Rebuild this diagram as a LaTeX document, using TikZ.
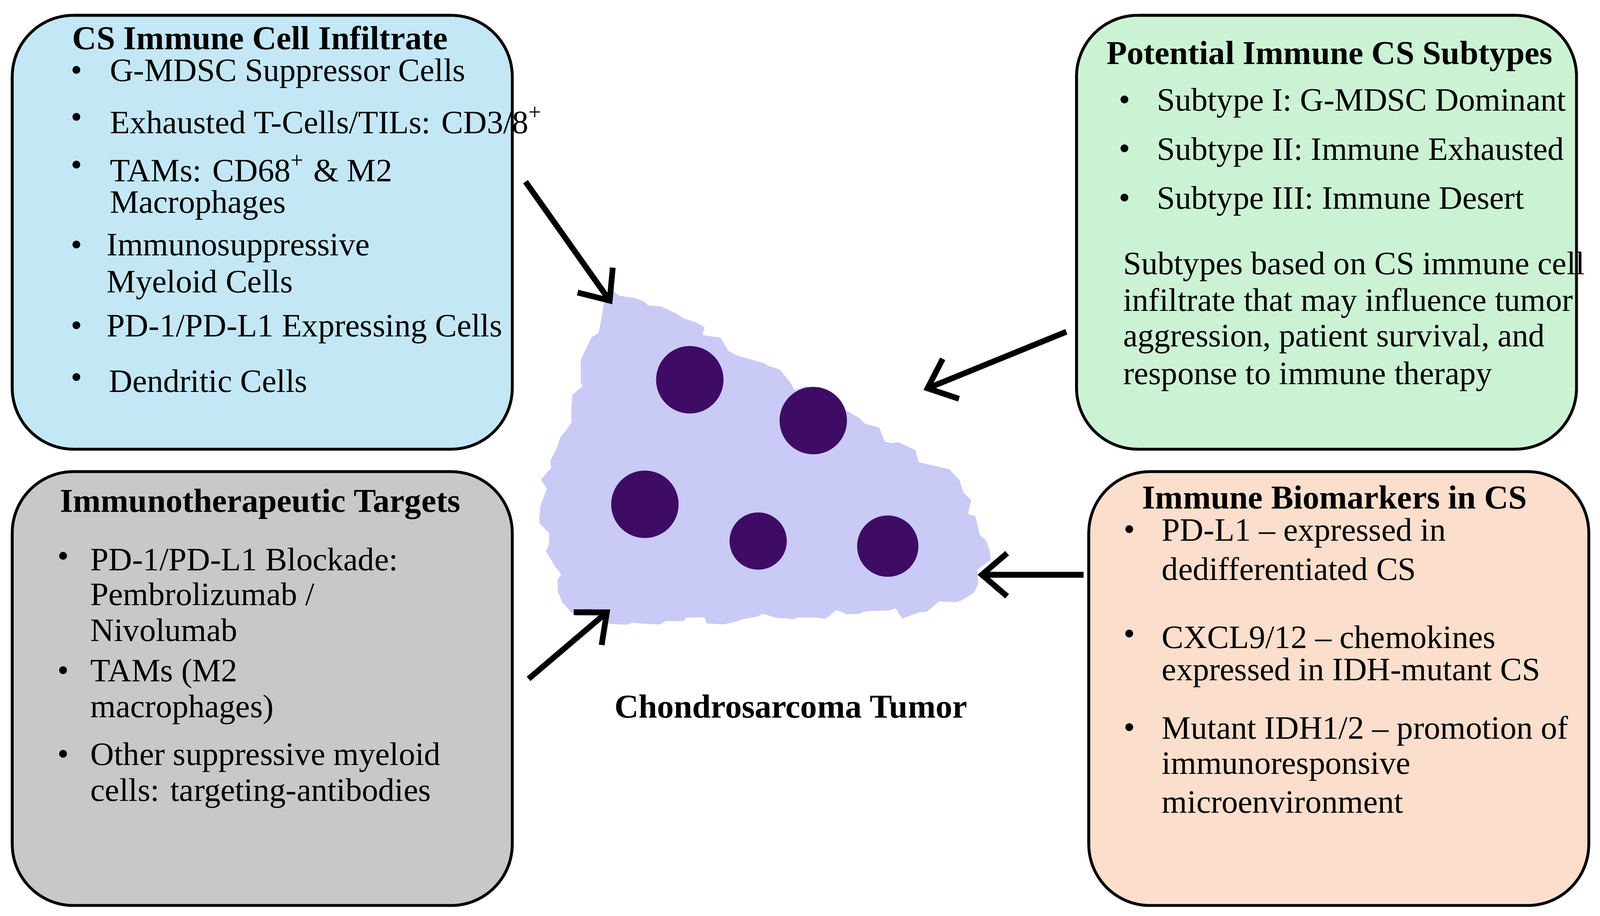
\documentclass[tikz,border=0pt]{standalone}
\usepackage{fontspec}
\setmainfont{Liberation Serif}
\usetikzlibrary{decorations.pathmorphing,arrows.meta}
\definecolor{cblue}{RGB}{196,231,246}
\definecolor{cgray}{RGB}{200,200,200}
\definecolor{cgreen}{RGB}{204,242,212}
\definecolor{cpeach}{RGB}{251,222,204}
\definecolor{ctumor}{RGB}{202,202,246}
\definecolor{cnuc}{RGB}{62,12,100}
\begin{document}
\begin{tikzpicture}[x=0.01cm,y=-0.01cm,
  box/.style={draw=black,line width=0.8pt,rounded corners=0.6cm},
  ttl/.style={font=\fontsize{9.3}{11}\selectfont\bfseries,anchor=center,inner sep=0},
  txt/.style={font=\fontsize{9.1}{11}\selectfont,anchor=west,inner sep=0},
  bul/.style={font=\fontsize{9.1}{11}\selectfont,anchor=center,inner sep=0},
  arr/.style={line width=1.6pt,-{Straight Barb[length=7pt,width=12pt]}},
  nuc/.style={fill=cnuc,draw=none}]
\useasboundingbox (0,0) rectangle (1568,897);
% boxes
\draw[box,fill=cblue] (12,15) rectangle (502,440);
\draw[box,fill=cgray] (12,462) rectangle (502,887);
\draw[box,fill=cgreen] (1055,15) rectangle (1545,440);
\draw[box,fill=cpeach] (1067,462) rectangle (1557,887);
% tumor
\fill[ctumor,decorate,decoration={random steps,segment length=3pt,amplitude=1.6pt}]
 (598,283) -- (700,330) -- (820,400) -- (940,470) -- (970,540) -- (955,580) -- (900,600) -- (760,605) -- (620,610) -- (560,600) -- (535,540) -- (530,470) -- (560,400) -- (580,330) -- cycle;
\fill[nuc] (676,372) circle (33);
\fill[nuc] (797,412) circle (33);
\fill[nuc] (632,494) circle (33);
\fill[nuc] (743,530) circle (28);
\fill[nuc] (870,535) circle (30);
\node[ttl] (tum) at (775,692) {Chondrosarcoma Tumor};
% arrows
\coordinate (a1s) at (515,178); \coordinate (a1e) at (600,298);
\coordinate (a2s) at (1045,325); \coordinate (a2e) at (905,382);
\coordinate (a3s) at (518,665); \coordinate (a3e) at (598,597);
\coordinate (a4s) at (1062,563); \coordinate (a4e) at (958,563);
\draw[arr] (a1s) -- (a1e);
\draw[arr] (a2s) -- (a2e);
\draw[arr] (a3s) -- (a3e);
\draw[arr] (a4s) -- (a4e);
% blue
\node[ttl] (bt) at (255,37) {CS Immune Cell Infiltrate};
\foreach \y [count=\i] in {72,118,165,243,322,373} {\node[bul] (bb\i) at (75,\y) {•};}
\node[txt] (b1) at (107,72) {G-MDSC Suppressor Cells};
\node[txt] (b2) at (107,118) {Exhausted T-Cells/TILs: CD3/8\textsuperscript{+}};
\node[txt] (b3) at (107,165) {TAMs: CD68\textsuperscript{+} \& M2};
\node[txt] (b3b) at (107,201) {Macrophages};
\node[txt] (b4) at (104,243) {Immunosuppressive};
\node[txt] (b4b) at (104,279) {Myeloid Cells};
\node[txt] (b5) at (104,322) {PD-1/PD-L1 Expressing Cells};
\node[txt] (b6) at (106,373) {Dendritic Cells};
% green
\node[ttl] (gt) at (1303,55) {Potential Immune CS Subtypes};
\foreach \y [count=\i] in {101,149,197} {\node[bul] (gb\i) at (1102,\y) {•};}
\node[txt] (g1) at (1133,101) {Subtype I: G-MDSC Dominant};
\node[txt] (g2) at (1133,149) {Subtype II: Immune Exhausted};
\node[txt] (g3) at (1133,197) {Subtype III: Immune Desert};
\node[txt] (g4) at (1100,261) {Subtypes based on CS immune cell};
\node[txt] (g5) at (1100,297) {infiltrate that may influence tumor};
\node[txt] (g6) at (1100,332) {aggression, patient survival, and};
\node[txt] (g7) at (1100,369) {response to immune therapy};
% gray
\node[ttl] (yt) at (255,494) {Immunotherapeutic Targets};
\foreach \y [count=\i] in {548,660,742} {\node[bul] (yb\i) at (62,\y) {•};}
\node[txt] (y1) at (88,548) {PD-1/PD-L1 Blockade:};
\node[txt] (y2) at (88,582) {Pembrolizumab /};
\node[txt] (y3) at (88,617) {Nivolumab};
\node[txt] (y4) at (88,660) {TAMs (M2};
\node[txt] (y5) at (88,695) {macrophages)};
\node[txt] (y6) at (88,742) {Other suppressive myeloid};
\node[txt] (y7) at (88,777) {cells: targeting-antibodies};
% peach
\node[ttl] (pt) at (1308,487) {Immune Biomarkers in CS};
\foreach \y [count=\i] in {522,624,716} {\node[bul] (pb\i) at (1107,\y) {•};}
\node[txt] (p1) at (1138,522) {PD-L1 – expressed in};
\node[txt] (p2) at (1138,557) {dedifferentiated CS};
\node[txt] (p3) at (1138,624) {CXCL9/12 – chemokines};
\node[txt] (p4) at (1138,659) {expressed in IDH-mutant CS};
\node[txt] (p5) at (1138,716) {Mutant IDH1/2 – promotion of};
\node[txt] (p6) at (1138,751) {immunoresponsive};
\node[txt] (p7) at (1138,786) {microenvironment};
\end{tikzpicture}
\end{document}
